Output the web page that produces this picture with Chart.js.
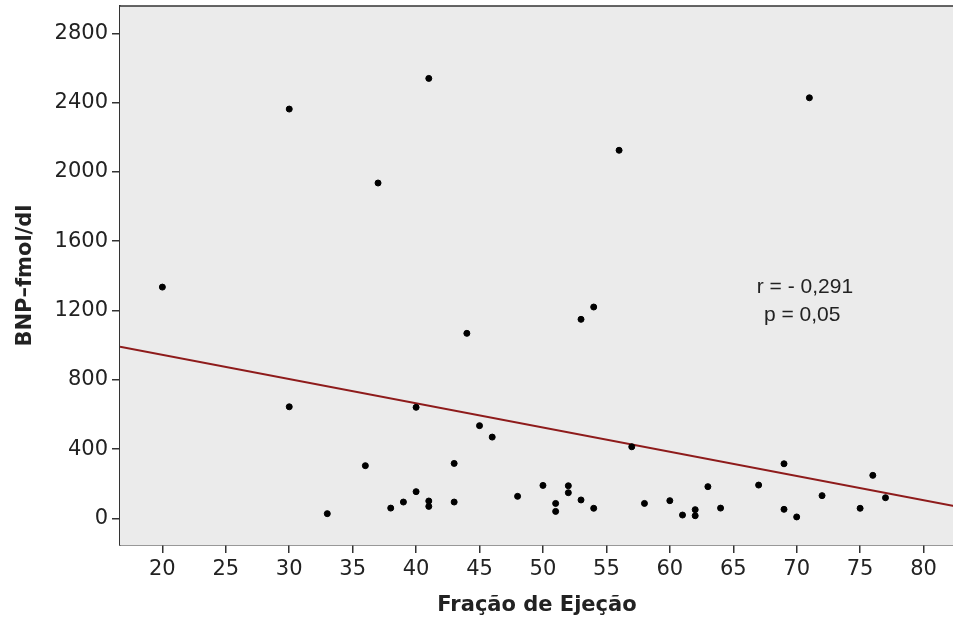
<!DOCTYPE html>
<html>
<head>
<meta charset="utf-8">
<script src="https://cdn.jsdelivr.net/npm/chart.js@4/dist/chart.umd.min.js"></script>
<style>
  html, body { margin: 0; padding: 0; background: #fff; overflow: hidden; }
  #wrap { width: 953px; height: 627px; overflow: hidden; }
</style>
</head>
<body>
<div id="wrap"><canvas id="bnpChart" width="958" height="627"></canvas></div>
<script>
// Fração de ejeção (x) e BNP (y)
const FRACAO = [20, 30, 30, 33, 36, 37, 38, 39, 40, 40, 41, 41, 41, 43, 43, 44, 45, 46, 48, 50, 51, 51, 52, 52, 53, 53, 54, 54, 56, 57, 58, 60, 61, 62, 62, 63, 64, 67, 69, 69, 70, 71, 72, 75, 76, 77];
const BNP = [1335, 2363, 644, 27, 304, 1936, 59, 94, 641, 154, 2540, 100, 69, 317, 94, 1068, 535, 469, 127, 190, 86, 40, 188, 148, 1149, 106, 1220, 58, 2125, 413, 86, 102, 19, 50, 15, 183, 59, 192, 315, 52, 8, 2428, 131, 58, 248, 119];

const FIT_X = [16.66, 82.4];
const FIT_Y = [991, 71];

const X_TICKS = [20, 25, 30, 35, 40, 45, 50, 55, 60, 65, 70, 75, 80];
const Y_TICKS = [0, 400, 800, 1200, 1600, 2000, 2400, 2800];
const X_RANGE = [16.66, 82.4];
const Y_RANGE = [-154, 2958];

const STATS_TEXT = ["r = - 0,291", "p = 0,05"];
const STATS_POS = [[70.65, 1335], [70.43, 1173]];

const AXIS_COLOR = '#333';
const TEXT_COLOR = '#222';

// fundo cinza + linha de cima + texto r/p
const framePlugin = {
  id: 'frame',
  beforeDatasetsDraw(chart) {
    const { ctx, chartArea: a } = chart;
    ctx.save();
    ctx.fillStyle = '#ebebeb';
    ctx.fillRect(a.left, a.top, a.right - a.left, a.bottom - a.top);
    ctx.restore();
  },
  afterDraw(chart) {
    const { ctx, chartArea: a, scales } = chart;
    ctx.save();
    ctx.strokeStyle = AXIS_COLOR;
    ctx.lineWidth = 1.5;
    ctx.beginPath();
    ctx.moveTo(a.left, a.top);
    ctx.lineTo(a.right, a.top);
    ctx.stroke();

    ctx.fillStyle = TEXT_COLOR;
    ctx.font = '21px "Liberation Sans", Arial, sans-serif';
    ctx.textAlign = 'center';
    ctx.textBaseline = 'middle';
    STATS_TEXT.forEach((t, i) => {
      ctx.fillText(t, scales.x.getPixelForValue(STATS_POS[i][0]), scales.y.getPixelForValue(STATS_POS[i][1]));
    });
    ctx.restore();
  }
};

const ctx = document.getElementById('bnpChart').getContext('2d');

new Chart(ctx, {
  type: 'scatter',
  data: {
    datasets: [
      {
        label: 'BNP',
        data: FRACAO.map((x, i) => ({ x: x, y: BNP[i] })),
        backgroundColor: '#000',
        borderColor: '#000',
        pointRadius: 3,
        pointHoverRadius: 3,
        order: 1
      },
      {
        type: 'line',
        label: 'Regressão',
        data: FIT_X.map((x, i) => ({ x: x, y: FIT_Y[i] })),
        borderColor: '#8e1b1b',
        borderWidth: 2,
        pointRadius: 0,
        fill: false,
        order: 2
      }
    ]
  },
  options: {
    responsive: false,
    animation: false,
    events: [],
    layout: { padding: { top: 6, right: 0, bottom: 0, left: 0 } },
    plugins: {
      legend: { display: false },
      tooltip: { enabled: false }
    },
    scales: {
      x: {
        type: 'linear',
        min: X_RANGE[0],
        max: X_RANGE[1],
        afterBuildTicks: s => { s.ticks = X_TICKS.map(v => ({ value: v })); },
        afterFit: s => { s.height = 82; s.paddingLeft = 0; s.paddingRight = 0; },
        grid: { drawOnChartArea: false, drawTicks: true, tickLength: 8, color: AXIS_COLOR, lineWidth: 1.5 },
        border: { display: true, color: AXIS_COLOR, width: 1.5 },
        ticks: {
          color: TEXT_COLOR,
          font: { family: '"DejaVu Sans", sans-serif', size: 21 },
          padding: 4,
          maxRotation: 0,
          autoSkip: false,
          callback: v => String(v)
        },
        title: {
          display: true,
          text: 'Fração de Ejeção',
          color: TEXT_COLOR,
          font: { family: '"DejaVu Sans", sans-serif', size: 21, weight: 'bold' },
          padding: { top: 0, bottom: 9 }
        }
      },
      y: {
        type: 'linear',
        min: Y_RANGE[0],
        max: Y_RANGE[1],
        afterBuildTicks: s => { s.ticks = Y_TICKS.map(v => ({ value: v })); },
        afterFit: s => { s.width = 120; s.paddingTop = 0; s.paddingBottom = 0; },
        grid: { drawOnChartArea: false, drawTicks: true, tickLength: 8, color: AXIS_COLOR, lineWidth: 1.5 },
        border: { display: true, color: AXIS_COLOR, width: 1.5 },
        ticks: {
          color: TEXT_COLOR,
          font: { family: '"DejaVu Sans", sans-serif', size: 21 },
          padding: 4,
          callback: v => String(v)
        },
        title: {
          display: true,
          text: 'BNP–fmol/dl',
          color: TEXT_COLOR,
          font: { family: '"DejaVu Sans", sans-serif', size: 21, weight: 'bold' },
          padding: { top: 13, bottom: 0 }
        }
      }
    }
  },
  plugins: [framePlugin]
});
</script>
</body>
</html>
